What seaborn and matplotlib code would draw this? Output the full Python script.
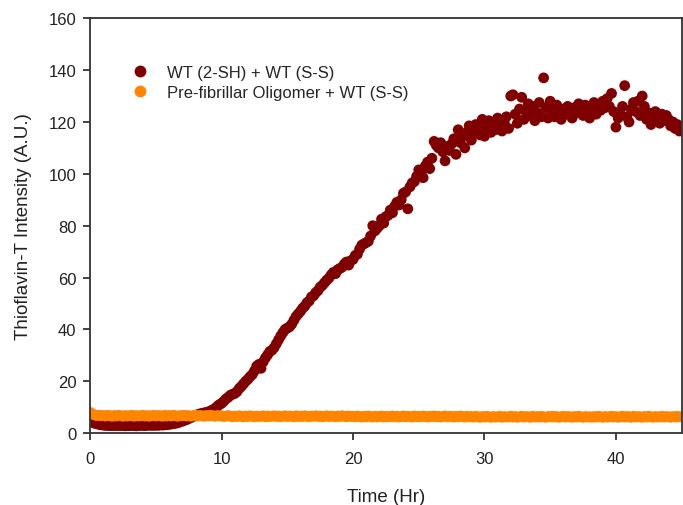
import numpy as np
import pandas as pd
import matplotlib
matplotlib.use("Agg")
import matplotlib.pyplot as plt
import seaborn as sns
from matplotlib.lines import Line2D

series_names = ["WT (2-SH) + WT (S-S)", "Pre-fibrillar Oligomer + WT (S-S)"]
series_colors = ["#7F0000", "#FF8400"]

# sampling times (hr), every 10 min from 0 to 45 hr
time_hr = np.linspace(0, 45, 271)

wt_2sh = [
    4.5, 4.2, 3.8, 3.6, 3.4, 3.2,
    3.1, 3.0, 3.0, 2.9, 3.0, 2.9,
    3.0, 2.9, 2.9, 3.0, 2.8, 2.9,
    2.9, 3.0, 2.9, 2.8, 2.9, 3.0,
    3.0, 2.9, 3.0, 3.1, 3.0, 3.0,
    3.1, 3.0, 3.2, 3.1, 3.2, 3.3,
    3.4, 3.5, 3.7, 3.8, 4.0, 4.3,
    4.6, 4.9, 5.2, 5.6, 6.0, 6.4,
    6.8, 7.1, 7.4, 7.6, 7.8, 8.0,
    8.2, 8.6, 9.0, 9.5, 10.3, 11.0,
    11.5, 12.3, 13.2, 13.8, 14.6, 15.0,
    15.3, 16.0, 17.2, 18.0, 19.0, 20.0,
    20.8, 21.8, 22.6, 24.0, 25.8, 26.5,
    25.0, 27.5, 29.0, 30.2, 31.5, 32.0,
    33.0, 34.5, 36.0, 37.5, 38.8, 40.0,
    40.5, 41.0, 42.0, 43.5, 45.0, 46.0,
    47.0, 48.2, 49.0, 50.3, 51.0, 52.5,
    53.0, 54.2, 55.0, 56.3, 57.0, 58.0,
    59.0, 59.8, 61.0, 62.0, 61.5, 63.0,
    63.5, 64.0, 65.2, 66.0, 64.8, 66.5,
    67.0, 68.5, 69.0, 71.0, 72.5, 73.0,
    73.5, 74.0, 76.0, 80.0, 78.0, 79.0,
    80.0, 82.5, 81.0, 83.5, 84.0, 86.0,
    85.0, 87.5, 89.0, 88.0, 90.0, 92.5,
    93.0, 86.5, 95.0, 96.5, 97.0, 99.0,
    101.5, 100.0, 98.5, 103.0, 104.5, 102.0,
    106.0, 112.5, 111.0, 110.0, 112.0, 108.5,
    105.0, 110.5, 109.0, 111.5, 113.5, 107.5,
    117.0, 112.0, 114.5, 110.0, 116.0, 118.5,
    113.0, 116.5, 119.0, 117.5, 115.0, 121.0,
    114.5, 118.0, 120.5, 116.0, 119.5, 117.0,
    121.5, 118.5, 116.5, 120.0, 122.0, 117.5,
    130.0, 130.5, 123.0, 119.5, 125.0, 129.5,
    121.0, 124.0, 127.0, 122.5, 126.0, 120.5,
    123.5, 127.5, 122.0, 137.0, 125.5, 121.5,
    128.0, 124.5, 122.0, 126.5, 124.0, 121.0,
    125.0, 123.0, 126.0, 124.5, 121.5, 125.5,
    123.5, 127.0, 124.0, 122.5, 126.5, 124.0,
    121.5, 125.0, 127.5, 123.0, 126.0, 124.5,
    128.0, 125.5, 129.0, 126.0, 131.0, 124.0,
    118.0, 121.5, 123.0, 126.0, 134.0, 122.0,
    120.0, 125.0, 127.5, 124.0, 128.0, 122.5,
    130.0, 126.0, 121.0, 123.5, 119.0, 122.0,
    124.0, 121.5, 119.5, 123.0, 120.5, 122.5,
    121.0, 118.5, 120.0, 117.5, 119.0, 116.5,
    117.0,
]

oligomer = [
    8.0, 7.4, 7.0, 6.8, 6.9, 6.7,
    6.8, 6.6, 6.9, 6.7, 6.5, 6.8,
    6.6, 6.9, 6.7, 6.5, 6.8, 6.6,
    6.7, 6.9, 6.5, 6.8, 6.6, 6.7,
    6.9, 6.6, 6.8, 6.5, 6.7, 6.9,
    6.6, 6.8, 6.7, 6.5, 6.9, 6.6,
    6.8, 6.6, 6.9, 6.7, 6.5, 6.8,
    6.7, 6.9, 6.6, 6.8, 6.5, 6.7,
    6.9, 6.6, 6.8, 6.7, 6.5, 6.8,
    6.6, 6.9, 6.7, 6.5, 6.8, 6.6,
    6.7, 6.4, 6.6, 6.8, 6.5, 6.3,
    6.6, 6.4, 6.7, 6.5, 6.3, 6.6,
    6.4, 6.7, 6.5, 6.3, 6.6, 6.4,
    6.5, 6.7, 6.3, 6.6, 6.4, 6.5,
    6.7, 6.4, 6.6, 6.3, 6.5, 6.7,
    6.4, 6.6, 6.5, 6.3, 6.7, 6.4,
    6.6, 6.4, 6.7, 6.5, 6.3, 6.6,
    6.5, 6.7, 6.4, 6.6, 6.3, 6.5,
    6.7, 6.4, 6.6, 6.5, 6.3, 6.6,
    6.4, 6.7, 6.5, 6.3, 6.6, 6.4,
    6.5, 6.3, 6.6, 6.4, 6.2, 6.5,
    6.3, 6.6, 6.4, 6.2, 6.5, 6.3,
    6.4, 6.6, 6.2, 6.5, 6.3, 6.4,
    6.6, 6.3, 6.5, 6.2, 6.4, 6.6,
    6.3, 6.5, 6.4, 6.2, 6.6, 6.3,
    6.5, 6.3, 6.6, 6.4, 6.2, 6.5,
    6.4, 6.6, 6.3, 6.5, 6.2, 6.4,
    6.6, 6.3, 6.5, 6.4, 6.2, 6.5,
    6.3, 6.6, 6.4, 6.2, 6.5, 6.3,
    6.4, 6.2, 6.5, 6.3, 6.1, 6.4,
    6.2, 6.5, 6.3, 6.1, 6.4, 6.2,
    6.3, 6.5, 6.1, 6.4, 6.2, 6.3,
    6.5, 6.2, 6.4, 6.1, 6.3, 6.5,
    6.2, 6.4, 6.3, 6.1, 6.5, 6.2,
    6.4, 6.2, 6.5, 6.3, 6.1, 6.4,
    6.3, 6.5, 6.2, 6.4, 6.1, 6.3,
    6.5, 6.2, 6.4, 6.3, 6.1, 6.4,
    6.2, 6.5, 6.3, 6.1, 6.4, 6.2,
    6.3, 6.1, 6.4, 6.2, 6.5, 6.3,
    6.1, 6.4, 6.2, 6.3, 6.5, 6.2,
    6.4, 6.1, 6.3, 6.5, 6.2, 6.4,
    6.3, 6.1, 6.5, 6.2, 6.4, 6.3,
    6.1, 6.4, 6.2, 6.5, 6.3, 6.1,
    6.4, 6.2, 6.3, 6.5, 6.2, 6.4,
    6.3, 6.1, 6.4, 6.2, 6.5, 6.3,
    6.3,
]

x_ticks = [0, 10, 20, 30, 40]
y_ticks = [0, 20, 40, 60, 80, 100, 120, 140, 160]

df = pd.concat([
    pd.DataFrame({"Time": time_hr, "Intensity": wt_2sh, "Series": series_names[0]}),
    pd.DataFrame({"Time": time_hr, "Intensity": oligomer, "Series": series_names[1]}),
], ignore_index=True)

sns.set_style("white")
plt.rcParams["font.family"] = ["Liberation Sans", "DejaVu Sans"]

fig = plt.figure(figsize=(6.83, 5.06), dpi=100)
ax = fig.add_axes([0.132, 0.142, 0.866, 0.820])

sns.scatterplot(data=df, x="Time", y="Intensity", hue="Series",
                hue_order=series_names, palette=series_colors,
                s=60, linewidth=0, edgecolor="none", ax=ax, legend=False)

ax.set_xlim(0, 45)
ax.set_ylim(0, 160)
ax.set_xticks(x_ticks)
ax.set_yticks(y_ticks)
ax.tick_params(axis="x", direction="out", length=5, width=1.2,
               colors="#222222", labelsize=12, pad=8,
               bottom=True, top=False)
ax.tick_params(axis="y", direction="out", length=5, width=1.2,
               colors="#222222", labelsize=12, pad=5,
               left=True, right=False)
for sp in ax.spines.values():
    sp.set_color("#333333")
    sp.set_linewidth(1.3)
    sp.set_visible(True)

ax.set_xlabel("Time (Hr)", fontsize=13.5, labelpad=16, color="#222222")
ax.set_ylabel("Thioflavin-T Intensity (A.U.)", fontsize=13.5, labelpad=12, color="#222222")

handles = [Line2D([], [], marker="o", linestyle="none", markersize=8.5,
                  markerfacecolor=c, markeredgecolor="none") for c in series_colors]
ax.legend(handles, series_names, loc="upper left", bbox_to_anchor=(0.056, 0.903),
          frameon=False, fontsize=12, handletextpad=1.0, labelspacing=0.3,
          borderaxespad=0, handlelength=1.2)

fig.savefig("out.png", dpi=100)
